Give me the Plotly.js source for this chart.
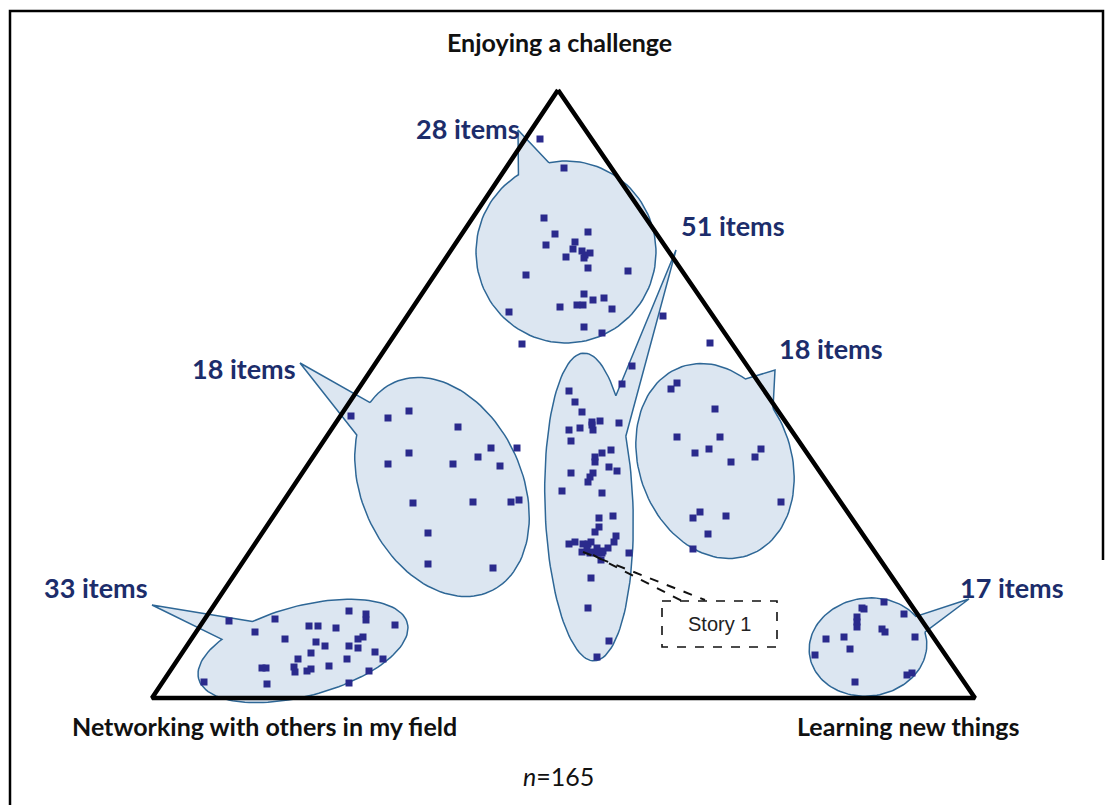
<!DOCTYPE html>
<html>
<head>
<meta charset="utf-8">
<script src="https://cdn.plot.ly/plotly-3.0.1.min.js"></script>
<style>
  body { margin: 0; background: #fff; }
  #chart { width: 1108px; height: 805px; }
</style>
</head>
<body>
<div id="chart"></div>
<script>
// Item positions (page pixel space, y grows downward)
const challengeX = [540, 564, 544, 555, 588, 546, 575, 573, 566, 582, 585, 590, 584, 588, 526, 628, 584, 593, 604, 577, 583, 560, 612, 509, 584, 602, 522, 663];
const challengeY = [139, 168, 218, 234, 232, 245, 242, 249, 257, 251, 255, 253, 258, 268, 275, 271, 294, 300, 298, 305, 305, 307, 309, 312, 327, 333, 344, 316];

const middleX = [632, 622, 569, 575, 582, 569, 580, 592, 593, 600, 619, 571, 611, 602, 595, 595, 609, 617, 593, 590, 588, 571, 562, 602, 599, 613, 599, 595, 616, 614, 569, 575, 583, 591, 582, 587, 593, 598, 602, 601, 608, 629, 591, 588, 609, 597, 588, 597, 603, 592, 590];
const middleY = [366, 384, 391, 402, 412, 430, 428, 425, 430, 421, 423, 441, 450, 453, 457, 462, 467, 471, 473, 477, 482, 473, 491, 493, 518, 516, 527, 532, 536, 542, 544, 542, 544, 542, 552, 550, 552, 553, 553, 560, 548, 553, 578, 608, 641, 657, 544, 548, 551, 422, 553];

const leftMidX = [351, 388, 409, 458, 491, 517, 409, 388, 453, 478, 500, 413, 473, 511, 519, 428, 428, 493];
const leftMidY = [416, 418, 411, 427, 448, 448, 453, 464, 464, 457, 466, 503, 502, 502, 500, 533, 564, 568];

const rightMidX = [710, 677, 671, 715, 677, 720, 695, 709, 731, 761, 755, 781, 700, 693, 726, 708, 693];
const rightMidY = [343, 383, 389, 409, 437, 437, 453, 449, 462, 449, 457, 502, 512, 518, 516, 534, 549];

const networkX = [229, 275, 255, 285, 309, 318, 336, 349, 366, 366, 395, 316, 325, 349, 358, 363, 358, 375, 383, 311, 298, 347, 329, 262, 266, 294, 295, 307, 311, 369, 204, 267, 349];
const networkY = [621, 619, 632, 639, 626, 626, 628, 611, 614, 620, 625, 642, 646, 646, 639, 637, 648, 652, 659, 653, 659, 659, 666, 668, 668, 667, 672, 671, 669, 671, 682, 684, 683];

const learningX = [884, 864, 857, 857, 857, 904, 882, 885, 826, 844, 915, 850, 815, 907, 912, 855, 862];
const learningY = [602, 609, 617, 622, 627, 614, 629, 632, 639, 637, 637, 649, 655, 675, 673, 682, 608];

// Triangle corners and their labels
const cornerX = [558, 152, 975];
const cornerY = [90, 698, 698];
const cornerLabels = ['Enjoying a challenge', 'Networking with others in my field', 'Learning new things'];

// Cluster bubbles: item counts and callout text
const clusterCounts = [28, 51, 18, 18, 33, 17];

const NAVY = '#1c2d6b';
const FILL = 'rgb(220,230,241)';
const EDGE = '#2e6796';

// ellipse + pointed tail, as one closed outline
function bubble(b) {
  const r = b.rot * Math.PI / 180;
  const c = Math.cos(r), s = Math.sin(r);
  const ang = p => {
    const dx = p[0] - b.cx, dy = p[1] - b.cy;
    const lx = dx * c + dy * s, ly = -dx * s + dy * c;
    return Math.atan2(ly / b.ry, lx / b.rx);
  };
  let ta = ang(b.base[0]), tb = ang(b.base[1]);
  let d = ((tb - ta) % (2 * Math.PI) + 2 * Math.PI) % (2 * Math.PI);
  let t0, t1;
  if (d < Math.PI) { t0 = ta + d; t1 = ta + 2 * Math.PI; } else { t0 = ta; t1 = ta + d; }
  const xs = [], ys = [];
  const n = 120;
  for (let i = 0; i <= n; i++) {
    const t = t0 + (t1 - t0) * i / n;
    const ex = b.rx * Math.cos(t), ey = b.ry * Math.sin(t);
    xs.push(b.cx + ex * c - ey * s);
    ys.push(b.cy + ex * s + ey * c);
  }
  xs.push(b.tip[0], xs[0]);
  ys.push(b.tip[1], ys[0]);
  return {
    x: xs, y: ys, type: 'scatter', mode: 'lines', fill: 'toself',
    fillcolor: FILL, line: { color: EDGE, width: 1.5 }, hoverinfo: 'skip',
  };
}

const bubbles = [
  { cx: 566, cy: 252, rx: 90, ry: 91, rot: 0, tip: [518, 130], base: [[518, 174], [549, 163]], label: [468, 128] },
  { cx: 589, cy: 507, rx: 44, ry: 154, rot: -2, tip: [676, 250], base: [[618, 387], [628, 432]], label: [733, 225] },
  { cx: 442, cy: 487, rx: 80, ry: 115, rot: -25, tip: [300, 363], base: [[373, 406], [360, 437]], label: [244, 368] },
  { cx: 715, cy: 461, rx: 76, ry: 100, rot: -20, tip: [775, 370], base: [[744, 383], [770, 411]], label: [831, 348] },
  { cx: 303, cy: 651, rx: 108, ry: 45, rot: -15, tip: [152, 605], base: [[250, 620], [220, 639]], label: [96, 587] },
  { cx: 868, cy: 647, rx: 59, ry: 49, rot: -8, tip: [969, 599], base: [[918, 615], [925, 632]], label: [1012, 587] },
];

const traces = bubbles.map(bubble);

traces.push({
  x: [...cornerX, cornerX[0]], y: [...cornerY, cornerY[0]],
  type: 'scatter', mode: 'lines', line: { color: '#000', width: 4.5 }, hoverinfo: 'skip',
});

const allX = [].concat(challengeX, middleX, leftMidX, rightMidX, networkX, learningX);
const allY = [].concat(challengeY, middleY, leftMidY, rightMidY, networkY, learningY);
traces.push({
  x: allX, y: allY, type: 'scatter', mode: 'markers',
  marker: { symbol: 'square', size: 7, color: '#2a2a8c', line: { width: 0 } },
  hoverinfo: 'skip',
});

// leader lines to "Story 1"
traces.push({
  x: [583, 705, null, 593, 682], y: [552, 600, null, 555, 601],
  type: 'scatter', mode: 'lines', line: { color: '#111', width: 2, dash: 'dash' }, hoverinfo: 'skip',
});

// frame around the figure
traces.push({
  x: [10, 10, 1103, 1103], y: [805, 11, 11, 560],
  type: 'scatter', mode: 'lines', line: { color: '#000', width: 2.5 }, hoverinfo: 'skip',
});

const annotations = bubbles.map((b, i) => ({
  x: b.label[0], y: b.label[1], xref: 'x', yref: 'y',
  text: `<b>${clusterCounts[i]} items</b>`, showarrow: false,
  font: { family: 'Lato, sans-serif', size: 27, color: NAVY },
}));

const labelPos = [[559, 42], [264, 726], [908, 726]];
cornerLabels.forEach((t, i) => annotations.push({
  x: labelPos[i][0], y: labelPos[i][1], xref: 'x', yref: 'y',
  text: `<b>${t}</b>`, showarrow: false,
  font: { family: 'Lato, sans-serif', size: 25, color: '#111' },
}));

annotations.push({
  x: 558, y: 776, xref: 'x', yref: 'y', text: '<i>n</i>=165', showarrow: false,
  font: { family: 'Lato, sans-serif', size: 25, color: '#111' },
});
annotations.push({
  x: 719, y: 624, xref: 'x', yref: 'y', text: 'Story 1', showarrow: false,
  font: { family: 'Liberation Sans, Arial, sans-serif', size: 20, color: '#222' },
});

const layout = {
  width: 1108, height: 805,
  margin: { l: 0, r: 0, t: 0, b: 0 },
  paper_bgcolor: '#fff', plot_bgcolor: '#fff',
  showlegend: false,
  xaxis: { range: [0, 1108], visible: false, fixedrange: true },
  yaxis: { range: [805, 0], visible: false, fixedrange: true },
  shapes: [{
    type: 'rect', xref: 'x', yref: 'y', x0: 662, x1: 777, y0: 601, y1: 647,
    line: { color: '#111', width: 1.6, dash: 'dash' }, fillcolor: 'rgba(255,255,255,0)',
  }],
  annotations,
};

Plotly.newPlot('chart', traces, layout, { displayModeBar: false, staticPlot: true });
</script>
</body>
</html>
